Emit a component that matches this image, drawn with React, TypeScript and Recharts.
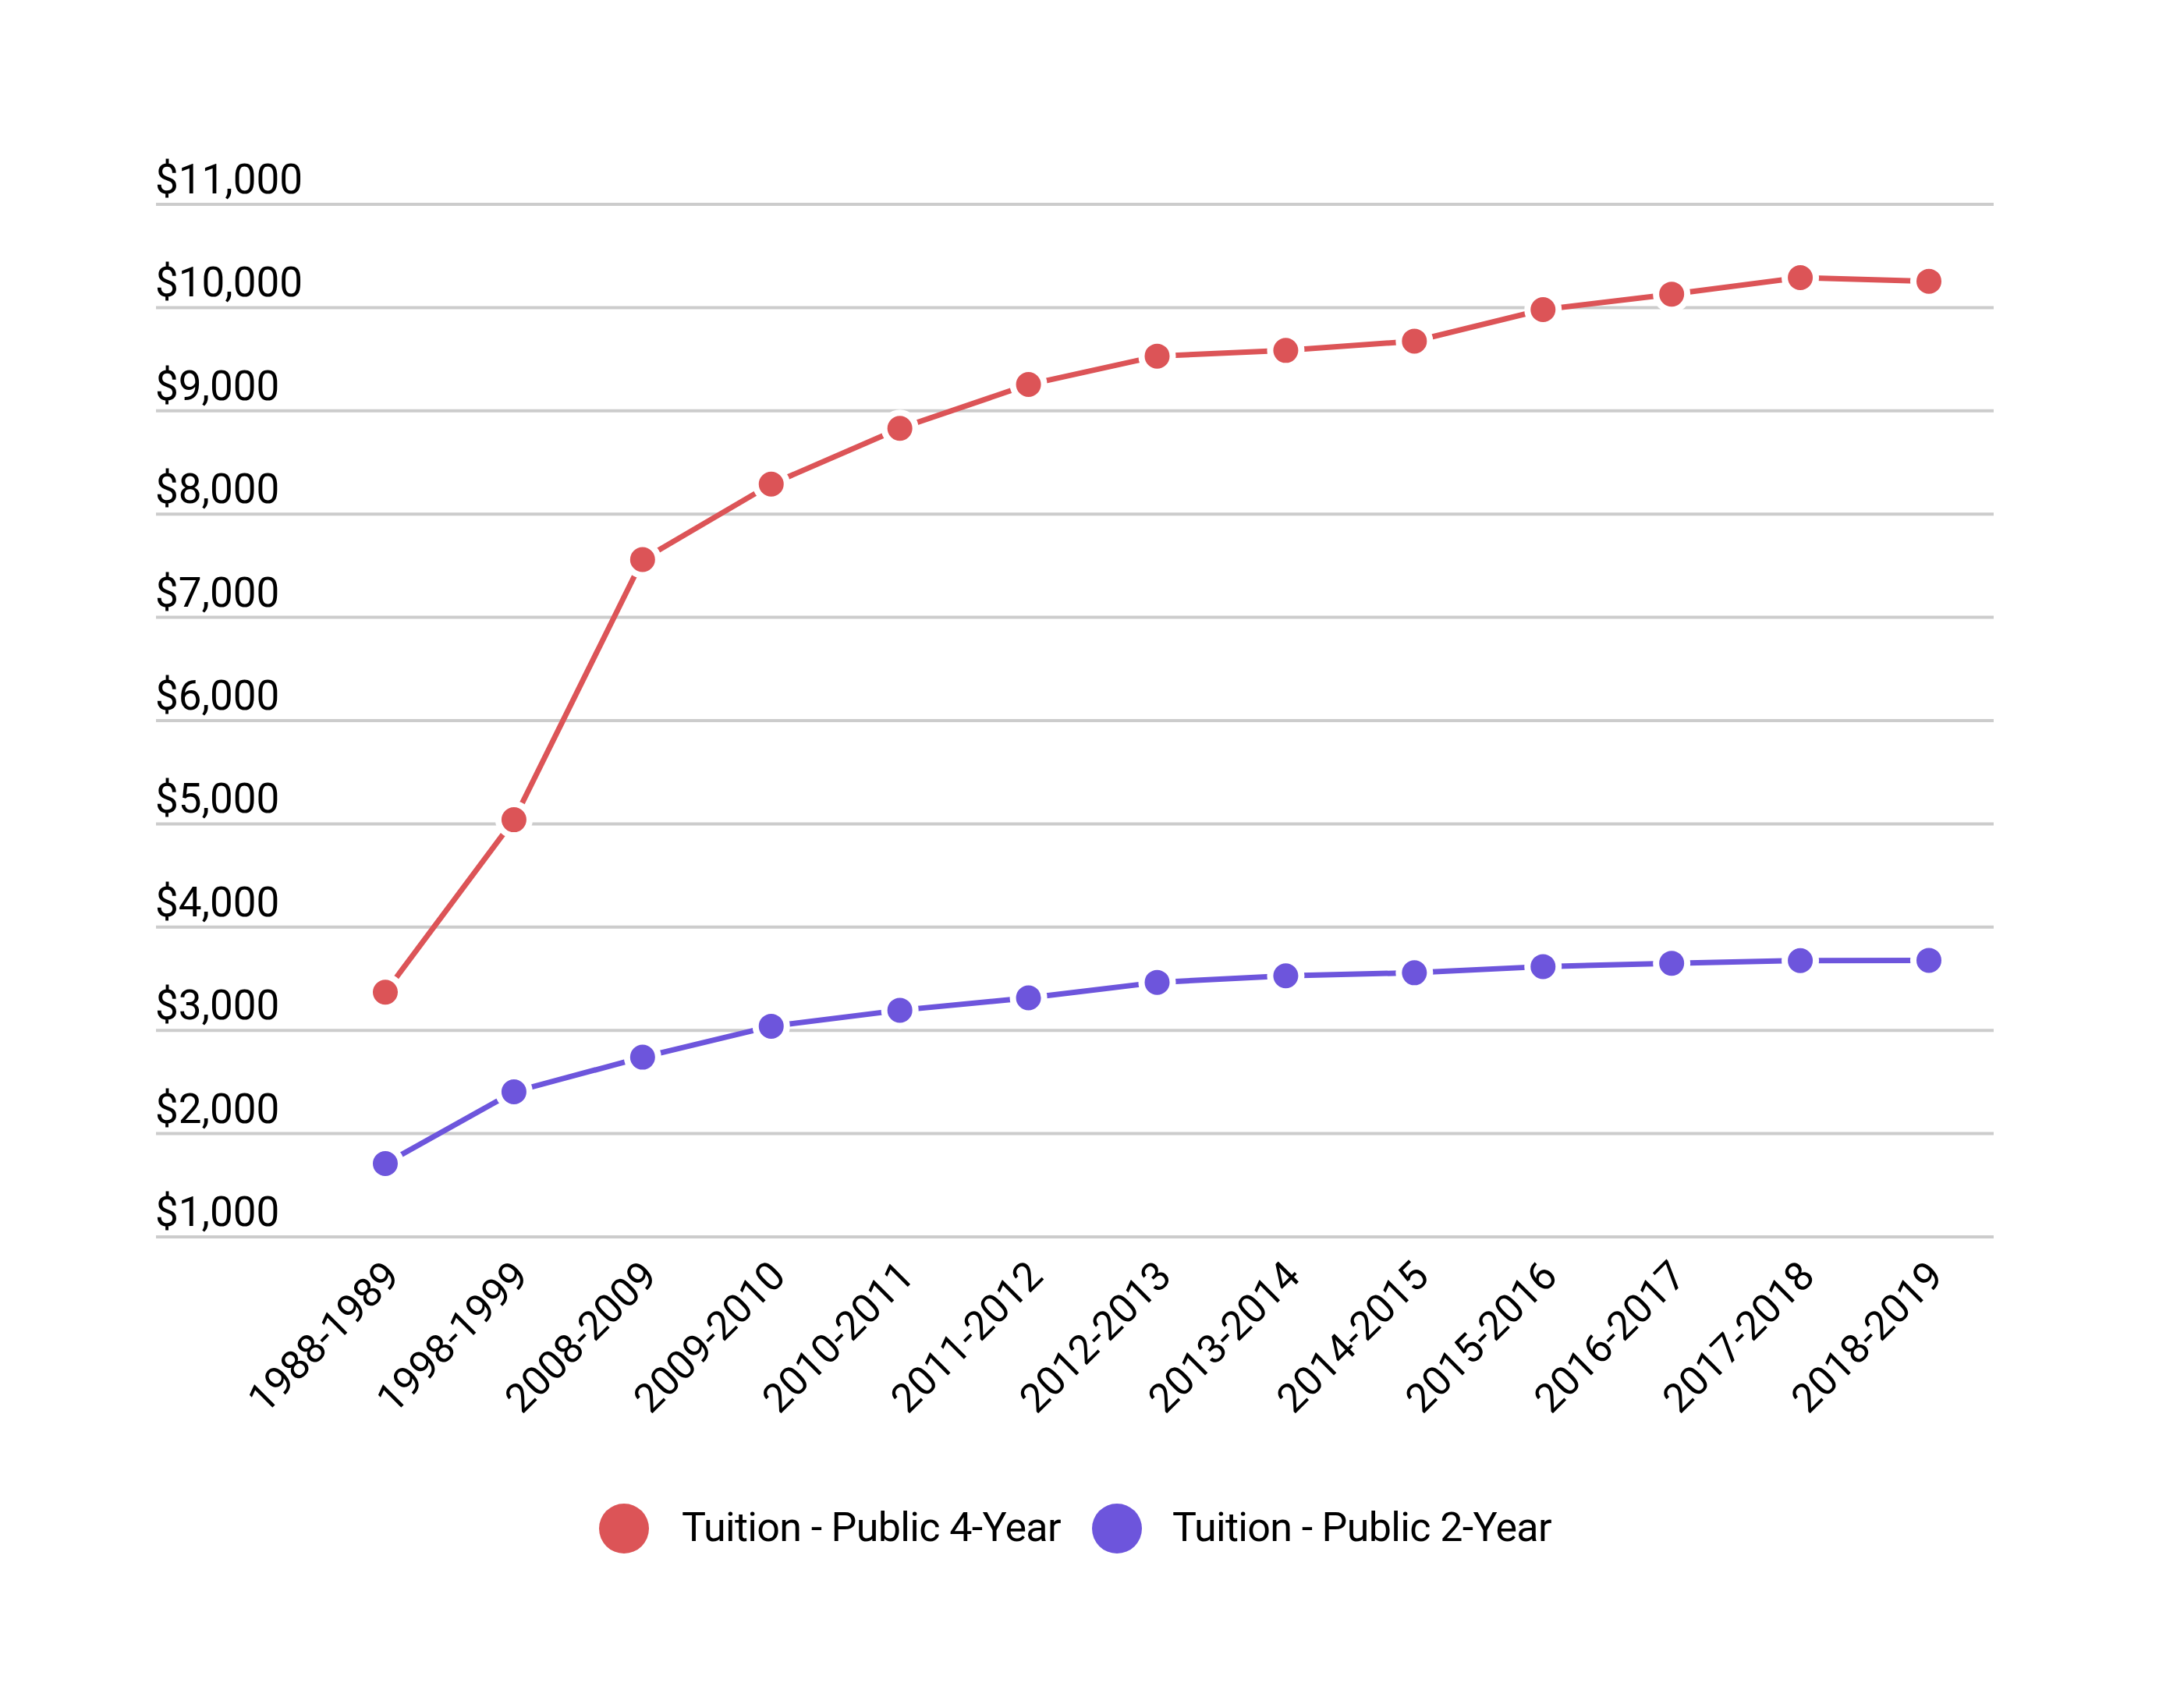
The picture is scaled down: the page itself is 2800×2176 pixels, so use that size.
import React from "react";
import { LineChart, Line, XAxis, YAxis, CartesianGrid, Legend } from "recharts";

const categories = [
  "1988-1989", "1998-1999", "2008-2009", "2009-2010", "2010-2011", "2011-2012", "2012-2013",
  "2013-2014", "2014-2015", "2015-2016", "2016-2017", "2017-2018", "2018-2019",
];
const publicFourYear = [3370, 5040, 7560, 8290, 8830, 9255, 9530, 9585, 9675, 9980, 10130, 10290, 10255];
const publicTwoYear = [1710, 2405, 2740, 3040, 3195, 3315, 3465, 3528, 3558, 3618, 3650, 3676, 3678];
const yTicks = [1000, 2000, 3000, 4000, 5000, 6000, 7000, 8000, 9000, 10000, 11000];

const seriesNames = ["Tuition - Public 4-Year", "Tuition - Public 2-Year"];
const RED = "#DC5457";
const PURPLE = "#6D55DC";
const FONT = "Roboto, 'Noto Sans', sans-serif";

const data = categories.map((c, i) => ({
  year: c,
  four: publicFourYear[i],
  two: publicTwoYear[i],
}));

const fmt = (v: number) => "$" + v.toLocaleString("en-US");

const YTick = (props: any) => {
  const { y, payload } = props;
  return (
    <text x={199} y={y - 14} textAnchor="start" fontSize={53} fontFamily={FONT} fill="#000">
      {fmt(payload.value)}
    </text>
  );
};

const XTick = (props: any) => {
  const { x, y, payload } = props;
  return (
    <g transform={`translate(${x + 21},${y + 53})`}>
      <text x={0} y={0} textAnchor="end" transform="rotate(-45)" fontSize={52} fontFamily={FONT} fill="#000">
        {payload.value}
      </text>
    </g>
  );
};

const LegendContent = () => (
  <svg width={2800} height={100} style={{ display: "block" }}>
    <circle cx={800} cy={50} r={32} fill={RED} />
    <text x={874} y={66} fontSize={52} letterSpacing={-0.65} fontFamily={FONT} fill="#000">{seriesNames[0]}</text>
    <circle cx={1432} cy={50} r={32} fill={PURPLE} />
    <text x={1503} y={66} fontSize={52} letterSpacing={-0.65} fontFamily={FONT} fill="#000">{seriesNames[1]}</text>
  </svg>
);

export default function App() {
  return (
    <div style={{ position: "absolute", left: 0, top: 0, width: 2800, height: 2176, background: "#fff" }}>
      <LineChart
        width={2800}
        height={2176}
        data={data}
        margin={{ top: 262, right: 244, bottom: 489, left: 199 }}
      >
        <CartesianGrid vertical={false} stroke="#cccccc" strokeWidth={4} />
        <XAxis
          dataKey="year"
          axisLine={false}
          tickLine={false}
          tickSize={0}
          tickMargin={0}
          interval={0}
          padding={{ left: 294, right: 83 }}
          tick={<XTick />}
          height={1}
        />
        <YAxis
          domain={[1000, 11000]}
          ticks={yTicks}
          interval={0}
          axisLine={false}
          tickLine={false}
          tickSize={0}
          width={1}
          tick={<YTick />}
        />
        <Legend
          verticalAlign="bottom"
          content={<LegendContent />}
          wrapperStyle={{ position: "absolute", top: 1910, left: 0, width: 2800, height: 100, bottom: "auto" }}
        />
        <Line
          dataKey="four"
          name={seriesNames[0]}
          stroke={RED}
          strokeWidth={7}
          dot={{ r: 20, fill: RED, stroke: "#fff", strokeWidth: 8 }}
          activeDot={false}
          isAnimationActive={false}
        />
        <Line
          dataKey="two"
          name={seriesNames[1]}
          stroke={PURPLE}
          strokeWidth={7}
          dot={{ r: 20, fill: PURPLE, stroke: "#fff", strokeWidth: 8 }}
          activeDot={false}
          isAnimationActive={false}
        />
      </LineChart>
    </div>
  );
}
